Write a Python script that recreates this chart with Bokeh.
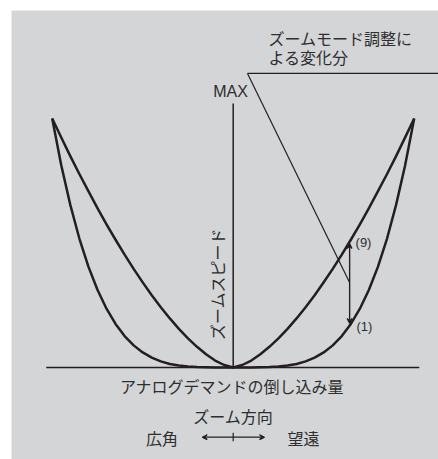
from bokeh.plotting import figure
from bokeh.models import Arrow, VeeHead, Range1d
from bokeh.core.properties import value
from bokeh.embed import file_html
from bokeh.resources import INLINE

# --- data -----------------------------------------------------------------
# lever deflection (0 = centre, 1 = full) and zoom speed (1 = curve top)
lever = [0.0, 0.05, 0.10, 0.15, 0.20, 0.25, 0.30, 0.35, 0.40, 0.45, 0.50,
         0.55, 0.60, 0.65, 0.70, 0.75, 0.80, 0.85, 0.90, 0.95, 1.0]
speed_9 = [0.0, 0.010, 0.028, 0.053, 0.083, 0.117, 0.155, 0.197, 0.242, 0.290,
           0.342, 0.396, 0.453, 0.513, 0.575, 0.640, 0.708, 0.777, 0.849, 0.924, 1.0]
speed_1 = [0.0, 0.0, 0.0001, 0.0005, 0.0015, 0.0037, 0.0076, 0.0142, 0.0245, 0.0394,
           0.0604, 0.0888, 0.126, 0.175, 0.236, 0.312, 0.405, 0.518, 0.653, 0.812, 1.0]

axis_x_extent = [-1.033, 1.028]
axis_y_top = 1.06
max_label_pos = (-0.015, 1.108)

leader_corner = (0.079, 1.181)
leader_right = 1.3
leader_end = (0.643, 0.341)
adjust_x = 0.643
adjust_range = [0.177, 0.498]          # (1) .. (9)
label_9_pos = (0.676, 0.503)
label_1_pos = (0.681, 0.165)

note_lines = ["ズームモード調整に", "よる変化分"]
note_x = 0.195
note_y = [1.325, 1.245]

y_title = "ズームスピード"
y_title_pos = (-0.089, 0.335)
x_title = "アナログデマンドの倒し込み量"
x_title_pos = (-0.007, -0.0743)
dir_title = "ズーム方向"
dir_title_pos = (0.0, -0.195)
dir_labels = ["広角", "望遠"]
dir_label_x = [-0.394, 0.388]
dir_label_y = -0.283
dir_arrow_x = [-0.171, 0.173]
dir_arrow_y = -0.280
dir_tick_y = [-0.262, -0.296]

# ---------------------------------------------------------------------------
line_col = "#231f20"
text_col = "#2e2e2e"
jp = value("Noto Sans CJK JP")
latin = value("Liberation Sans")

x_full = [-u for u in reversed(lever)] + lever[1:]
y9_full = list(reversed(speed_9)) + speed_9[1:]
y1_full = list(reversed(speed_1)) + speed_1[1:]

p = figure(width=438, height=459,
           x_range=Range1d(-1.2249, 1.1343), y_range=Range1d(-0.3695, 1.4337),
           output_backend="svg", toolbar_location=None,
           x_axis_location=None, y_axis_location=None,
           min_border_left=11, min_border_right=0, min_border_top=10, min_border_bottom=0,
           background_fill_color="#d4d5d7", border_fill_color="white",
           outline_line_color=None)
p.grid.visible = False

# axes
p.line(axis_x_extent, [0, 0], line_color=line_col, line_width=1.6)
p.line([0, 0], [0, axis_y_top], line_color=line_col, line_width=1.5)

# curves
p.line(x_full, y9_full, line_color=line_col, line_width=2.5, line_join="round")
p.line(x_full, y1_full, line_color=line_col, line_width=2.5, line_join="round")

# leader line
p.line([leader_corner[0], leader_right], [leader_corner[1], leader_corner[1]],
       line_color=line_col, line_width=1.2)
p.line([leader_corner[0], leader_end[0]], [leader_corner[1], leader_end[1]],
       line_color=line_col, line_width=1.2)

# adjustment arrow (both directions)
p.add_layout(Arrow(x_start=adjust_x, y_start=adjust_range[0] + 0.02,
                   x_end=adjust_x, y_end=adjust_range[1],
                   line_color=line_col, line_width=1.2,
                   end=VeeHead(size=5, line_color=line_col, line_width=1.1),
                   start=None))
p.add_layout(Arrow(x_start=adjust_x, y_start=adjust_range[1] - 0.02,
                   x_end=adjust_x, y_end=adjust_range[0],
                   line_color=line_col, line_width=1.2,
                   end=VeeHead(size=5, line_color=line_col, line_width=1.1),
                   start=None))

# direction arrow
p.add_layout(Arrow(x_start=dir_arrow_x[0], y_start=dir_arrow_y,
                   x_end=dir_arrow_x[1], y_end=dir_arrow_y,
                   line_color=line_col, line_width=1.2,
                   start=VeeHead(size=5, line_color=line_col, line_width=1.1),
                   end=VeeHead(size=5, line_color=line_col, line_width=1.1)))
p.line([0, 0], dir_tick_y, line_color=line_col, line_width=1.2)

# texts
p.text(x=[max_label_pos[0]], y=[max_label_pos[1]], text=["MAX"],
       text_font=latin, text_font_size="16px", text_color=text_col,
       text_align="center", text_baseline="middle")
p.text(x=[label_9_pos[0], label_1_pos[0]], y=[label_9_pos[1], label_1_pos[1]],
       text=["(9)", "(1)"], text_font=latin, text_font_size="13px",
       text_color=text_col, text_align="left", text_baseline="middle")
p.text(x=[note_x, note_x], y=note_y, text=note_lines, text_font=jp,
       text_font_size="16px", text_color=text_col,
       text_align="left", text_baseline="middle")
p.text(x=[y_title_pos[0]], y=[y_title_pos[1]], text=[y_title], angle=1.5707963,
       text_font=jp, text_font_size="16px", text_color=text_col,
       text_align="center", text_baseline="middle")
p.text(x=[x_title_pos[0]], y=[x_title_pos[1]], text=[x_title], text_font=jp,
       text_font_size="16px", text_color=text_col,
       text_align="center", text_baseline="middle")
p.text(x=[dir_title_pos[0]], y=[dir_title_pos[1]], text=[dir_title], text_font=jp,
       text_font_size="16px", text_color=text_col,
       text_align="center", text_baseline="middle")
p.text(x=dir_label_x, y=[dir_label_y, dir_label_y], text=dir_labels, text_font=jp,
       text_font_size="16px", text_color=text_col,
       text_align="center", text_baseline="middle")

open("out.html", "w").write(file_html(p, INLINE))
